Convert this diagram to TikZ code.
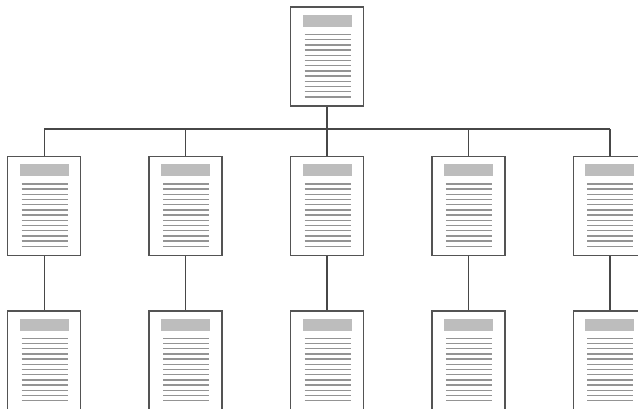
\documentclass[tikz,border=0pt]{standalone}
\usepackage{tikz}
\usetikzlibrary{positioning, calc}
\definecolor{frame}{gray}{0.33}
\definecolor{wire}{gray}{0.28}
\definecolor{headbar}{gray}{0.74}
\definecolor{textline}{gray}{0.58}

\begin{document}
\begin{tikzpicture}[
    x=1pt, y=-1pt,
    node distance=49pt and 67pt,
    page/.style={rectangle, draw=frame, line width=1.4pt, fill=white,
                 minimum width=73pt, minimum height=99pt, inner sep=0pt,
                 path picture={
                   \fill[headbar] ($(path picture bounding box.north west)+(12,8)$)
                     rectangle ++(49,12);
                   \foreach \k in {0,...,12}
                     \draw[textline, line width=1.3pt]
                       ($(path picture bounding box.north west)+(14,27.5+5.2*\k)$) -- ++(46,0);
                 }},
    link/.style={draw=wire, line width=1.4pt},
  ]
  \useasboundingbox (0,0) rectangle (638,409);
  \clip (0,0) rectangle (638,409);

  % Top page
  \node[page] (top) at (327,56.5) {};

  % Middle row
  \node[page, below=of top] (m3) {};
  \node[page, left=of m3] (m2) {};
  \node[page, left=of m2] (m1) {};
  \node[page, right=of m3] (m4) {};
  \node[page, right=of m4] (m5) {};

  % Bottom row
  \foreach \i in {1,...,5}
    \node[page, below=54pt of m\i] (b\i) {};

  % Bus
  \coordinate (bus) at (327,129);
  \draw[link] (top) -- (bus);
  \draw[link] (m1.north |- bus) -- (m5.north |- bus);
  \foreach \i in {1,...,5}
    \draw[link] (m\i.north) -- (m\i.north |- bus);

  % Columns
  \foreach \i in {1,...,5}
    \draw[link] (m\i) -- (b\i);
\end{tikzpicture}
\end{document}
